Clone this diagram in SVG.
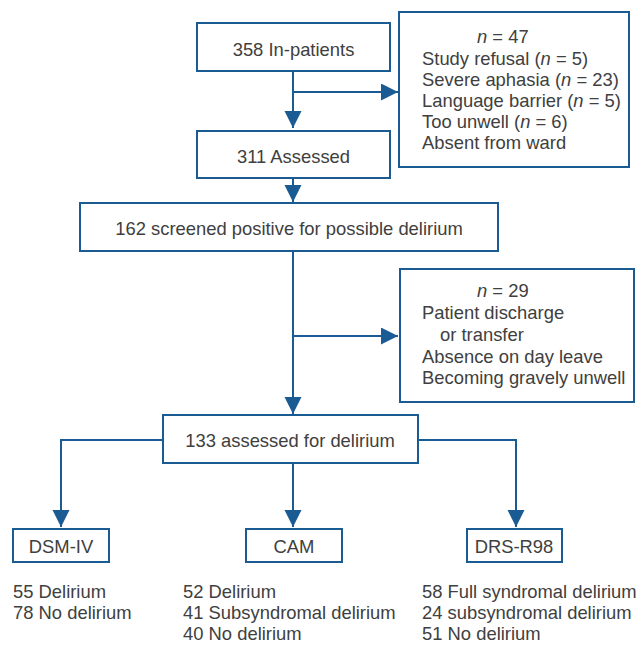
<svg xmlns="http://www.w3.org/2000/svg" width="639" height="646" viewBox="0 0 639 646">
<defs>
<style>
.box{fill:#fff;stroke:#1b5b93;stroke-width:2}
.ln{fill:none;stroke:#1b5b93;stroke-width:2}
text{font-family:"Liberation Sans",Arial,sans-serif;font-size:18.4px;fill:#404040}
.c{text-anchor:middle}
.i{font-style:italic}
</style>
<marker id="ah" markerUnits="userSpaceOnUse" markerWidth="18" markerHeight="18" refX="17" refY="8.5" orient="auto">
<path d="M0,0 L17,8.5 L0,17 z" fill="#1b5b93"/>
</marker>
</defs>
<rect width="639" height="646" fill="#fff"/>
<g id="connectors">
<path class="ln" d="M293,71 V128" marker-end="url(#ah)"/>
<path class="ln" d="M293,92 H398" marker-end="url(#ah)"/>
<path class="ln" d="M293,178 V202" marker-end="url(#ah)"/>
<path class="ln" d="M293,251 V414" marker-end="url(#ah)"/>
<path class="ln" d="M293,336 H398" marker-end="url(#ah)"/>
<path class="ln" d="M163,440 H61 V527" marker-end="url(#ah)"/>
<path class="ln" d="M293,463 V527" marker-end="url(#ah)"/>
<path class="ln" d="M418,440 H516 V527" marker-end="url(#ah)"/>
</g>
<g id="inpatients">
<rect class="box" x="197" y="23" width="193" height="48"/>
<text class="c" x="293.5" y="56">358 In-patients</text>
</g>
<g id="excluded47">
<rect class="box" x="399" y="12" width="230" height="155"/>
<text x="477" y="43"><tspan class="i">n</tspan> = 47</text>
<text x="422" y="65">Study refusal (<tspan class="i">n</tspan> = 5)</text>
<text x="422" y="86">Severe aphasia (<tspan class="i">n</tspan> = 23)</text>
<text x="422" y="107">Language barrier (<tspan class="i">n</tspan> = 5)</text>
<text x="422" y="128">Too unwell (<tspan class="i">n</tspan> = 6)</text>
<text x="422" y="149">Absent from ward</text>
</g>
<g id="assessed">
<rect class="box" x="197" y="131" width="193" height="47"/>
<text class="c" x="293.5" y="163">311 Assessed</text>
</g>
<g id="screened">
<rect class="box" x="80" y="203" width="418" height="48"/>
<text class="c" x="289" y="235">162 screened positive for possible delirium</text>
</g>
<g id="excluded29">
<rect class="box" x="400" y="269" width="234" height="133"/>
<text x="477" y="297"><tspan class="i">n</tspan> = 29</text>
<text x="422" y="319">Patient discharge</text>
<text x="440" y="341">or transfer</text>
<text x="422" y="363">Absence on day leave</text>
<text x="422" y="384">Becoming gravely unwell</text>
</g>
<g id="assessed133">
<rect class="box" x="163" y="415" width="255" height="48"/>
<text class="c" x="290" y="447">133 assessed for delirium</text>
</g>
<g id="dsm">
<rect class="box" x="13" y="529" width="96" height="33"/>
<text class="c" x="61" y="553">DSM-IV</text>
<text x="13" y="598">55 Delirium</text>
<text x="13" y="619">78 No delirium</text>
</g>
<g id="cam">
<rect class="box" x="246" y="529" width="96" height="33"/>
<text class="c" x="294" y="553">CAM</text>
<text x="183" y="598">52 Delirium</text>
<text x="183" y="619">41 Subsyndromal delirium</text>
<text x="183" y="640">40 No delirium</text>
</g>
<g id="drs">
<rect class="box" x="467" y="529" width="95" height="33"/>
<text class="c" x="514" y="553">DRS-R98</text>
<text x="422" y="598">58 Full syndromal delirium</text>
<text x="422" y="619">24 subsyndromal delirium</text>
<text x="422" y="640">51 No delirium</text>
</g>
</svg>
